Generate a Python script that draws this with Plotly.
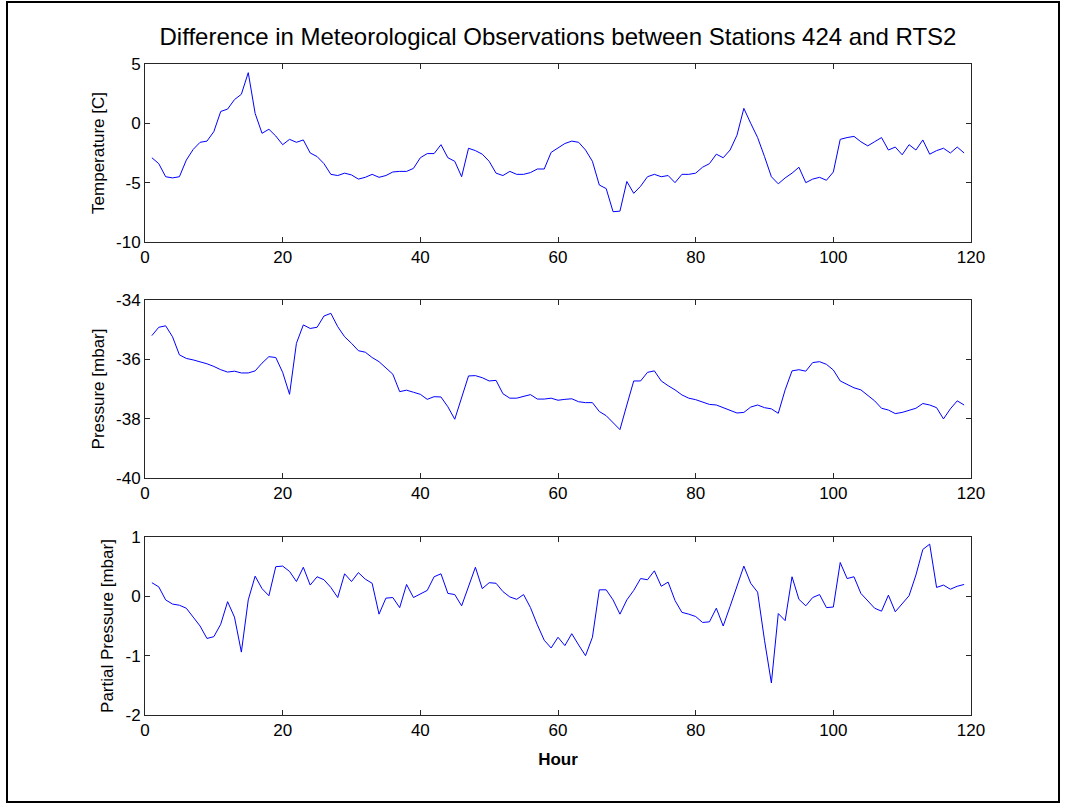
import plotly.graph_objects as go
from plotly.subplots import make_subplots

hours = list(range(1, 120))

temperature = [
    -2.9, -3.4, -4.5, -4.6, -4.5, -3.1, -2.2, -1.6, -1.5, -0.7,
    1.0, 1.2, 2.0, 2.45, 4.27, 0.84, -0.84, -0.5, -1.07, -1.8,
    -1.35, -1.6, -1.4, -2.5, -2.8, -3.4, -4.3, -4.4, -4.2, -4.35,
    -4.7, -4.55, -4.3, -4.55, -4.4, -4.1, -4.05, -4.05, -3.8, -2.9,
    -2.55, -2.55, -1.8, -2.9, -3.2, -4.5, -2.1, -2.3, -2.6, -3.2,
    -4.2, -4.4, -4.05, -4.3, -4.3, -4.15, -3.85, -3.85, -2.45, -2.1,
    -1.7, -1.5, -1.6, -2.25, -3.2, -5.2, -5.5, -7.45, -7.4, -4.9,
    -5.9, -5.3, -4.5, -4.3, -4.5, -4.4, -5.0, -4.3, -4.3, -4.2,
    -3.7, -3.4, -2.6, -2.9, -2.25, -1.0, 1.26, 0.0, -1.2, -2.8,
    -4.5, -5.1, -4.6, -4.2, -3.7, -5.0, -4.7, -4.55, -4.8, -4.1,
    -1.35, -1.2, -1.1, -1.55, -1.9, -1.55, -1.2, -2.25, -2.0, -2.65,
    -1.8, -2.25, -1.4, -2.6, -2.3, -2.1, -2.5, -2.0, -2.5,
]

pressure = [
    -35.2, -34.92, -34.87, -35.24, -35.85, -35.97, -36.02, -36.08, -36.15, -36.24,
    -36.35, -36.43, -36.4, -36.46, -36.46, -36.39, -36.13, -35.91, -35.94, -36.44,
    -37.18, -35.46, -34.84, -34.96, -34.92, -34.54, -34.45, -34.9, -35.24, -35.46,
    -35.71, -35.76, -35.94, -36.08, -36.3, -36.5, -37.09, -37.04, -37.11, -37.18,
    -37.35, -37.26, -37.27, -37.6, -38.02, -37.26, -36.56, -36.55, -36.62, -36.73,
    -36.71, -37.16, -37.31, -37.31, -37.24, -37.19, -37.34, -37.34, -37.31, -37.38,
    -37.35, -37.33, -37.43, -37.46, -37.46, -37.76, -37.9, -38.12, -38.37, -37.54,
    -36.73, -36.73, -36.44, -36.39, -36.73, -36.89, -37.03, -37.2, -37.31, -37.36,
    -37.45, -37.52, -37.54, -37.63, -37.74, -37.81, -37.79, -37.61, -37.54, -37.63,
    -37.67, -37.82, -37.03, -36.39, -36.35, -36.4, -36.11, -36.08, -36.17, -36.36,
    -36.73, -36.84, -36.96, -37.03, -37.2, -37.4, -37.65, -37.71, -37.83, -37.79,
    -37.72, -37.65, -37.49, -37.54, -37.63, -38.01, -37.67, -37.4, -37.54,
]

partial_pressure = [
    0.23, 0.16, -0.06, -0.13, -0.15, -0.2, -0.35, -0.5, -0.71, -0.68,
    -0.47, -0.09, -0.35, -0.94, -0.06, 0.34, 0.13, 0.01, 0.5, 0.51,
    0.42, 0.25, 0.49, 0.19, 0.33, 0.28, 0.15, -0.02, 0.38, 0.25,
    0.4, 0.29, 0.22, -0.3, -0.03, -0.02, -0.19, 0.2, -0.02, 0.04,
    0.1, 0.33, 0.38, 0.05, 0.03, -0.16, 0.16, 0.49, 0.13, 0.23,
    0.22, 0.08, -0.01, -0.05, 0.03, -0.19, -0.48, -0.74, -0.87, -0.69,
    -0.83, -0.63, -0.82, -1.0, -0.69, 0.11, 0.11, -0.06, -0.3, -0.06,
    0.1, 0.3, 0.28, 0.43, 0.17, 0.24, -0.07, -0.27, -0.3, -0.34,
    -0.44, -0.43, -0.2, -0.5, -0.17, 0.19, 0.51, 0.22, 0.07, -0.74,
    -1.46, -0.29, -0.41, 0.33, -0.05, -0.16, -0.02, 0.03, -0.19, -0.18,
    0.57, 0.3, 0.33, 0.05, -0.07, -0.2, -0.25, 0.02, -0.26, -0.13,
    0.01, 0.36, 0.79, 0.88, 0.15, 0.19, 0.12, 0.17, 0.2,
]

x_ticks = [0, 20, 40, 60, 80, 100, 120]
y_titles = ["Temperature [C]", "Pressure [mbar]", "Partial Pressure [mbar]"]
y_ranges = [[-10, 5], [-40, -34], [-2, 1]]
y_ticks = [[-10, -5, 0, 5], [-40, -38, -36, -34], [-2, -1, 0, 1]]
series = [temperature, pressure, partial_pressure]

FONT = "Liberation Sans, Arial, sans-serif"
AX = "#262626"
TICK_SIZE = 17
LABEL_SIZE = 17

fig = make_subplots(rows=3, cols=1)
for i, s in enumerate(series):
    fig.add_trace(
        go.Scatter(x=hours, y=s, mode="lines",
                   line=dict(color="rgb(0,0,255)", width=1),
                   showlegend=False, hoverinfo="x+y"),
        row=i + 1, col=1,
    )

domains = [[0.7266, 1.0], [0.3641, 0.6375], [0.0, 0.2734]]
for i in range(3):
    fig.update_xaxes(
        range=[0, 120], tickvals=x_ticks, ticktext=[str(v) for v in x_ticks],
        ticks="inside", ticklen=5,
        showline=True, linecolor=AX, linewidth=1, mirror="ticks",
        tickcolor=AX, showgrid=False, zeroline=False,
        tickfont=dict(size=TICK_SIZE, color="black", family=FONT),
        row=i + 1, col=1,
    )
    fig.update_yaxes(
        range=y_ranges[i], tickvals=y_ticks[i], ticktext=[str(v) for v in y_ticks[i]],
        ticks="inside", ticklen=5,
        showline=True, linecolor=AX, linewidth=1, mirror="ticks",
        tickcolor=AX, showgrid=False, zeroline=False,
        tickfont=dict(size=TICK_SIZE, color="black", family=FONT),
        title=dict(text=y_titles[i], font=dict(size=LABEL_SIZE, color="black", family=FONT), standoff=7),
        domain=domains[i],
        row=i + 1, col=1,
    )

fig.update_xaxes(title=dict(text="<b>Hour</b>", font=dict(size=LABEL_SIZE, color="black", family=FONT), standoff=13),
                 row=3, col=1)

fig.update_layout(
    width=1065, height=803,
    margin=dict(l=145, r=94, t=64, b=88),
    paper_bgcolor="white", plot_bgcolor="white",
    font=dict(family=FONT, color="black"),
    title=dict(text="Difference in Meteorological Observations between Stations 424 and RTS2",
               x=0.5, xref="paper", xanchor="center",
               y=1 - 37 / 803, yref="container", yanchor="middle",
               font=dict(size=24, color="black", family=FONT)),
)

fig.add_shape(type="rect", xref="paper", yref="paper",
              x0=(7 - 145) / 826, x1=(1059 - 145) / 826,
              y0=1 - (802 - 64) / 651, y1=1 - (2 - 64) / 651,
              line=dict(color="black", width=2), fillcolor="rgba(0,0,0,0)", layer="below")

fig.write_html("out.html")
